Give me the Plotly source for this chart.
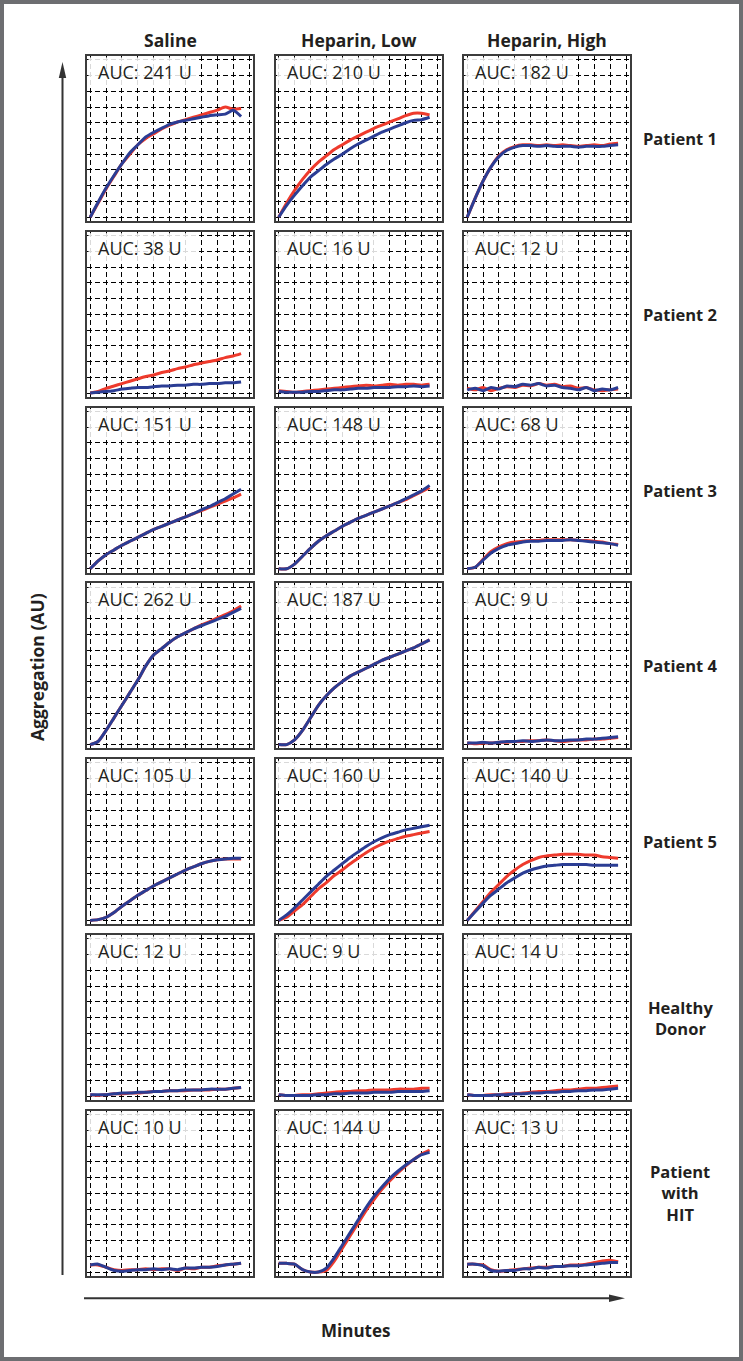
import plotly.graph_objects as go

W, H = 743, 1361

# ---------------- data ----------------
columns = ["Saline", "Heparin, Low", "Heparin, High"]
rows = ["Patient 1", "Patient 2", "Patient 3", "Patient 4", "Patient 5",
        "Healthy<br>Donor", "Patient<br>with<br>HIT"]
auc = [["AUC: 241 U", "AUC: 210 U", "AUC: 182 U"],
       ["AUC: 38 U", "AUC: 16 U", "AUC: 12 U"],
       ["AUC: 151 U", "AUC: 148 U", "AUC: 68 U"],
       ["AUC: 262 U", "AUC: 187 U", "AUC: 9 U"],
       ["AUC: 105 U", "AUC: 160 U", "AUC: 140 U"],
       ["AUC: 12 U", "AUC: 9 U", "AUC: 14 U"],
       ["AUC: 10 U", "AUC: 144 U", "AUC: 13 U"]]

minutes = [0, 0.5, 1, 1.5, 2, 2.5, 3, 3.5, 4, 4.5, 5, 5.5, 6, 6.5, 7, 7.5, 8, 8.5, 9, 9.5]

# Patient 1
p1_saline_red = [0, 0.9, 1.8, 2.6, 3.4, 4.0, 4.6, 5.0, 5.3, 5.6, 5.85, 6.05, 6.2, 6.35, 6.5, 6.65, 6.8, 7.0, 6.85, 6.9]
p1_saline_blue = [0, 0.95, 1.85, 2.65, 3.4, 4.1, 4.6, 5.1, 5.4, 5.65, 5.9, 6.05, 6.15, 6.25, 6.35, 6.45, 6.5, 6.55, 6.8, 6.4]
p1_low_red = [0, 0.9, 1.7, 2.4, 3.0, 3.5, 3.9, 4.3, 4.6, 4.9, 5.15, 5.4, 5.65, 5.85, 6.05, 6.25, 6.45, 6.6, 6.6, 6.5]
p1_low_blue = [0, 0.75, 1.4, 2.0, 2.55, 2.95, 3.35, 3.7, 4.0, 4.35, 4.65, 4.9, 5.15, 5.4, 5.6, 5.8, 6.0, 6.15, 6.2, 6.35]
p1_high_red = [0, 1.2, 2.3, 3.2, 3.9, 4.3, 4.5, 4.6, 4.6, 4.55, 4.6, 4.55, 4.6, 4.55, 4.5, 4.55, 4.6, 4.55, 4.65, 4.7]
p1_high_blue = [0, 1.2, 2.3, 3.2, 3.85, 4.25, 4.45, 4.55, 4.55, 4.5, 4.55, 4.5, 4.5, 4.5, 4.45, 4.5, 4.5, 4.5, 4.55, 4.6]
# Patient 2
p2_saline_red = [0, 0.1, 0.3, 0.45, 0.6, 0.75, 0.9, 1.05, 1.15, 1.3, 1.4, 1.55, 1.65, 1.8, 1.9, 2.0, 2.1, 2.25, 2.35, 2.5]
p2_saline_blue = [0, 0.05, 0.1, 0.15, 0.25, 0.3, 0.35, 0.35, 0.4, 0.45, 0.45, 0.5, 0.5, 0.55, 0.55, 0.6, 0.6, 0.65, 0.65, 0.7]
p2_low_red = [0.15, 0.1, 0.05, 0.1, 0.15, 0.2, 0.25, 0.3, 0.35, 0.4, 0.45, 0.5, 0.45, 0.5, 0.55, 0.5, 0.55, 0.55, 0.5, 0.55]
p2_low_blue = [0.1, 0.05, 0.05, 0.05, 0.1, 0.1, 0.15, 0.2, 0.2, 0.25, 0.3, 0.3, 0.35, 0.35, 0.35, 0.4, 0.4, 0.45, 0.4, 0.45]
p2_high_red = [0.3, 0.2, 0.35, 0.15, 0.3, 0.4, 0.35, 0.5, 0.45, 0.6, 0.5, 0.55, 0.4, 0.45, 0.3, 0.35, 0.2, 0.15, 0.2, 0.25]
p2_high_blue = [0.2, 0.3, 0.15, 0.35, 0.25, 0.45, 0.4, 0.55, 0.5, 0.6, 0.45, 0.5, 0.35, 0.3, 0.2, 0.35, 0.15, 0.25, 0.2, 0.35]
# Patient 3
p3_saline_red = [0, 0.5, 0.9, 1.2, 1.5, 1.75, 2.0, 2.25, 2.5, 2.7, 2.9, 3.1, 3.3, 3.5, 3.7, 3.9, 4.1, 4.3, 4.5, 4.75]
p3_saline_blue = [0, 0.5, 0.9, 1.2, 1.5, 1.75, 2.0, 2.25, 2.5, 2.7, 2.9, 3.1, 3.3, 3.5, 3.75, 3.95, 4.2, 4.45, 4.75, 5.05]
p3_low_red = [0, 0, 0.3, 0.8, 1.3, 1.75, 2.1, 2.4, 2.7, 2.95, 3.2, 3.4, 3.6, 3.8, 4.0, 4.2, 4.4, 4.65, 4.9, 5.15]
p3_low_blue = [0, 0, 0.3, 0.8, 1.3, 1.75, 2.1, 2.4, 2.7, 2.95, 3.2, 3.4, 3.6, 3.8, 4.0, 4.2, 4.45, 4.7, 4.95, 5.3]
p3_high_red = [0, 0.1, 0.6, 1.1, 1.4, 1.6, 1.7, 1.75, 1.8, 1.8, 1.85, 1.85, 1.85, 1.85, 1.8, 1.8, 1.75, 1.7, 1.6, 1.55]
p3_high_blue = [0, 0.1, 0.55, 1.0, 1.3, 1.5, 1.6, 1.7, 1.75, 1.75, 1.8, 1.8, 1.8, 1.85, 1.8, 1.75, 1.7, 1.65, 1.6, 1.5]
# Patient 4
p4_saline_red = [0, 0.2, 0.9, 1.7, 2.5, 3.3, 4.1, 5.0, 5.7, 6.1, 6.5, 6.85, 7.1, 7.35, 7.6, 7.8, 8.05, 8.25, 8.5, 8.8]
p4_saline_blue = [0, 0.2, 0.9, 1.7, 2.5, 3.3, 4.1, 5.0, 5.7, 6.1, 6.5, 6.85, 7.1, 7.35, 7.55, 7.75, 7.95, 8.15, 8.4, 8.65]
p4_low_red = [0, 0, 0.3, 0.9, 1.7, 2.5, 3.1, 3.6, 4.0, 4.35, 4.6, 4.85, 5.1, 5.35, 5.55, 5.75, 5.95, 6.15, 6.4, 6.65]
p4_low_blue = [0, 0, 0.3, 0.9, 1.7, 2.5, 3.1, 3.6, 4.0, 4.35, 4.6, 4.85, 5.1, 5.35, 5.55, 5.75, 5.95, 6.15, 6.4, 6.65]
p4_high_red = [0.1, 0.05, 0.1, 0.1, 0.15, 0.15, 0.2, 0.2, 0.25, 0.25, 0.3, 0.25, 0.2, 0.25, 0.3, 0.3, 0.35, 0.35, 0.4, 0.45]
p4_high_blue = [0.1, 0.1, 0.15, 0.1, 0.15, 0.2, 0.2, 0.25, 0.2, 0.25, 0.3, 0.25, 0.25, 0.3, 0.3, 0.35, 0.35, 0.4, 0.45, 0.5]
# Patient 5
p5_saline_red = [0, 0.05, 0.2, 0.5, 0.9, 1.25, 1.6, 1.9, 2.2, 2.45, 2.7, 2.95, 3.2, 3.4, 3.6, 3.75, 3.85, 3.9, 3.9, 3.9]
p5_saline_blue = [0, 0.05, 0.2, 0.5, 0.9, 1.25, 1.6, 1.9, 2.2, 2.45, 2.7, 2.95, 3.2, 3.4, 3.6, 3.75, 3.85, 3.9, 3.95, 3.95]
p5_low_red = [0, 0.2, 0.6, 1.0, 1.5, 2.0, 2.4, 2.85, 3.2, 3.6, 3.95, 4.3, 4.6, 4.85, 5.05, 5.2, 5.35, 5.45, 5.55, 5.65]
p5_low_blue = [0, 0.35, 0.8, 1.3, 1.8, 2.3, 2.8, 3.2, 3.6, 4.0, 4.35, 4.7, 5.0, 5.25, 5.45, 5.6, 5.75, 5.85, 5.95, 6.05]
p5_high_red = [0, 0.6, 1.2, 1.8, 2.3, 2.8, 3.2, 3.55, 3.8, 4.0, 4.1, 4.15, 4.2, 4.2, 4.2, 4.15, 4.15, 4.05, 4.0, 3.95]
p5_high_blue = [0, 0.55, 1.1, 1.6, 2.0, 2.4, 2.7, 3.0, 3.2, 3.35, 3.45, 3.5, 3.55, 3.55, 3.55, 3.55, 3.5, 3.5, 3.5, 3.5]
# Healthy donor
hd_saline_red = [0.1, 0.05, 0.1, 0.15, 0.15, 0.2, 0.2, 0.25, 0.3, 0.3, 0.35, 0.35, 0.35, 0.4, 0.4, 0.4, 0.45, 0.45, 0.5, 0.55]
hd_saline_blue = [0.1, 0.1, 0.1, 0.15, 0.2, 0.2, 0.25, 0.25, 0.3, 0.3, 0.35, 0.35, 0.4, 0.4, 0.4, 0.45, 0.45, 0.45, 0.5, 0.55]
hd_low_red = [0.1, 0.05, 0.05, 0.1, 0.1, 0.15, 0.2, 0.25, 0.3, 0.3, 0.35, 0.35, 0.4, 0.4, 0.4, 0.45, 0.45, 0.45, 0.5, 0.5]
hd_low_blue = [0.1, 0.05, 0.05, 0.05, 0.05, 0.1, 0.1, 0.15, 0.15, 0.2, 0.2, 0.2, 0.25, 0.25, 0.25, 0.3, 0.3, 0.3, 0.3, 0.35]
hd_high_red = [0.1, 0.05, 0.05, 0.1, 0.1, 0.15, 0.15, 0.2, 0.25, 0.3, 0.3, 0.35, 0.4, 0.4, 0.45, 0.5, 0.5, 0.55, 0.6, 0.65]
hd_high_blue = [0.1, 0.05, 0.05, 0.05, 0.1, 0.1, 0.15, 0.15, 0.2, 0.2, 0.25, 0.25, 0.3, 0.3, 0.35, 0.35, 0.4, 0.4, 0.45, 0.5]
# Patient with HIT
hit_saline_red = [0.45, 0.45, 0.3, 0.15, 0.1, 0.15, 0.15, 0.2, 0.15, 0.2, 0.2, 0.1, 0.25, 0.2, 0.3, 0.3, 0.4, 0.45, 0.5, 0.55]
hit_saline_blue = [0.45, 0.5, 0.3, 0.1, 0.05, 0.1, 0.15, 0.15, 0.2, 0.15, 0.2, 0.15, 0.25, 0.25, 0.3, 0.3, 0.35, 0.45, 0.5, 0.55]
hit_low_red = [0.55, 0.55, 0.5, 0.15, 0.0, 0.0, 0.1, 0.7, 1.5, 2.3, 3.1, 3.9, 4.6, 5.25, 5.8, 6.3, 6.75, 7.15, 7.5, 7.75]
hit_low_blue = [0.55, 0.55, 0.5, 0.15, 0.0, 0.0, 0.25, 0.9, 1.7, 2.5, 3.3, 4.1, 4.8, 5.4, 5.95, 6.4, 6.8, 7.15, 7.45, 7.6]
hit_high_red = [0.5, 0.5, 0.45, 0.15, 0.05, 0.1, 0.15, 0.2, 0.25, 0.3, 0.3, 0.35, 0.35, 0.45, 0.45, 0.5, 0.6, 0.7, 0.75, 0.65]
hit_high_blue = [0.5, 0.5, 0.4, 0.1, 0.05, 0.1, 0.1, 0.2, 0.2, 0.3, 0.25, 0.35, 0.35, 0.4, 0.4, 0.45, 0.5, 0.55, 0.6, 0.6]

red_series = [[p1_saline_red, p1_low_red, p1_high_red],
              [p2_saline_red, p2_low_red, p2_high_red],
              [p3_saline_red, p3_low_red, p3_high_red],
              [p4_saline_red, p4_low_red, p4_high_red],
              [p5_saline_red, p5_low_red, p5_high_red],
              [hd_saline_red, hd_low_red, hd_high_red],
              [hit_saline_red, hit_low_red, hit_high_red]]
blue_series = [[p1_saline_blue, p1_low_blue, p1_high_blue],
               [p2_saline_blue, p2_low_blue, p2_high_blue],
               [p3_saline_blue, p3_low_blue, p3_high_blue],
               [p4_saline_blue, p4_low_blue, p4_high_blue],
               [p5_saline_blue, p5_low_blue, p5_high_blue],
               [hd_saline_blue, hd_low_blue, hd_high_blue],
               [hit_saline_blue, hit_low_blue, hit_high_blue]]

# ---------------- layout helpers ----------------
RED = "#ee3a2c"
BLUE = "#2b3d94"
TXT = "#231f20"
FONT = "Open Sans"

col_left = [87, 275.5, 464]
panel_w = 166
row_top0 = 56
row_pitch = 175.8
panel_h = 165


def px(x):
    return x / W


def py(y):
    return 1 - y / H


fig = go.Figure()
layout = dict(
    width=W, height=H, margin=dict(l=0, r=0, t=0, b=0),
    paper_bgcolor="white", plot_bgcolor="white", showlegend=False,
    font=dict(family=FONT, color=TXT),
)
shapes = []
annotations = []

n = 0
for r in range(7):
    top = row_top0 + r * row_pitch
    for c in range(3):
        n += 1
        left = col_left[c]
        xa = "xaxis" if n == 1 else f"xaxis{n}"
        ya = "yaxis" if n == 1 else f"yaxis{n}"
        xr = "x" if n == 1 else f"x{n}"
        yr = "y" if n == 1 else f"y{n}"
        common = dict(showticklabels=False, ticks="", showgrid=True, gridcolor="#000000",
                      gridwidth=1, griddash="5px,3px", zeroline=False, showline=True,
                      mirror=True, linecolor="#3c3c3c", linewidth=2, fixedrange=True)
        layout[xa] = dict(domain=[px(left), px(left + panel_w)], range=[-0.2, 10.25],
                          tickvals=list(range(11)), anchor=yr, **common)
        layout[ya] = dict(domain=[py(top + panel_h), py(top)], range=[-0.24, 10.24],
                          tickvals=list(range(11)), anchor=xr, **common)
        fig.add_trace(go.Scatter(x=minutes, y=red_series[r][c], mode="lines",
                                 line=dict(color=RED, width=3, shape="spline", smoothing=0.6),
                                 xaxis=xr, yaxis=yr, hoverinfo="skip"))
        fig.add_trace(go.Scatter(x=minutes, y=blue_series[r][c], mode="lines",
                                 line=dict(color=BLUE, width=3, shape="spline", smoothing=0.6),
                                 xaxis=xr, yaxis=yr, hoverinfo="skip"))
        # white veil behind AUC label
        shapes.append(dict(type="rect", xref="paper", yref="paper",
                           x0=px(left + 1.5), x1=px(left + 112), y0=py(top + 30), y1=py(top + 1.5),
                           fillcolor="rgba(255,255,255,0.85)", line=dict(width=0), layer="above"))
        annotations.append(dict(text=auc[r][c], xref="paper", yref="paper",
                                x=px(left + 9), y=py(top + 16), xanchor="left", yanchor="middle",
                                showarrow=False, font=dict(family=FONT, size=18, color=TXT)))

# column titles
for c, name in enumerate(columns):
    annotations.append(dict(text=f"<b>{name}</b>", xref="paper", yref="paper",
                            x=px(col_left[c] + panel_w / 2), y=py(40), xanchor="center",
                            yanchor="middle", showarrow=False,
                            font=dict(family=FONT, size=17.5, color=TXT)))
# row labels
for r, name in enumerate(rows):
    top = row_top0 + r * row_pitch
    annotations.append(dict(text=f"<b>{name}</b>", xref="paper", yref="paper",
                            x=px(680), y=py(top + panel_h / 2), xanchor="center",
                            yanchor="middle", showarrow=False, align="center",
                            font=dict(family=FONT, size=16.5, color=TXT)))

# axis titles
annotations.append(dict(text="<b>Aggregation (AU)</b>", xref="paper", yref="paper",
                        x=px(37), y=py(667), textangle=-90, xanchor="center", yanchor="middle",
                        showarrow=False, font=dict(family=FONT, size=17.5, color=TXT)))
annotations.append(dict(text="<b>Minutes</b>", xref="paper", yref="paper",
                        x=px(355), y=py(1330), xanchor="center", yanchor="middle",
                        showarrow=False, font=dict(family=FONT, size=17, color=TXT)))

# arrows
ARW = "#333333"
shapes.append(dict(type="line", xref="paper", yref="paper", x0=px(62.5), x1=px(62.5),
                   y0=py(1275), y1=py(74), line=dict(color=ARW, width=2)))
shapes.append(dict(type="path", xref="paper", yref="paper",
                   path=f"M {px(62.5)},{py(62)} L {px(58.8)},{py(78)} L {px(66.2)},{py(78)} Z",
                   fillcolor=ARW, line=dict(width=0)))
shapes.append(dict(type="line", xref="paper", yref="paper", x0=px(84), x1=px(612),
                   y0=py(1298.3), y1=py(1298.3), line=dict(color=ARW, width=2)))
shapes.append(dict(type="path", xref="paper", yref="paper",
                   path=f"M {px(625)},{py(1298.3)} L {px(609)},{py(1294.5)} L {px(609)},{py(1302.1)} Z",
                   fillcolor=ARW, line=dict(width=0)))
# outer frame
shapes.append(dict(type="rect", xref="paper", yref="paper", x0=px(2), x1=px(741),
                   y0=py(1359), y1=py(2), line=dict(color="#6d6e71", width=4),
                   fillcolor="rgba(0,0,0,0)"))

layout["shapes"] = shapes
layout["annotations"] = annotations
fig.update_layout(**layout)

fig.write_html("out.html", config={"displayModeBar": False, "staticPlot": True},
               post_script="document.body.style.margin='0';document.body.style.overflow='hidden';")
